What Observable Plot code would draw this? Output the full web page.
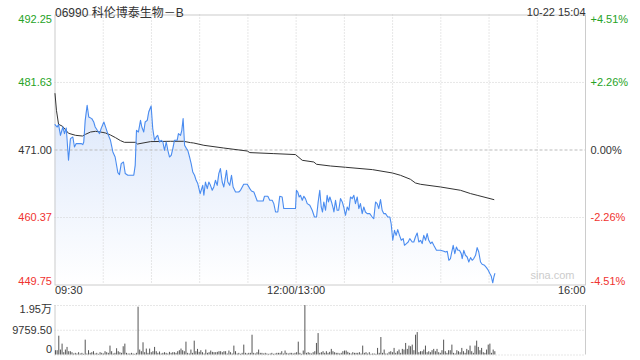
<!DOCTYPE html>
<html><head><meta charset="utf-8">
<script src="https://cdn.jsdelivr.net/npm/d3@7"></script>
<script src="https://cdn.jsdelivr.net/npm/@observablehq/plot@0.6"></script>
<style>
html,body{margin:0;padding:0;background:#fff;}
#wrap{position:relative;width:640px;height:360px;overflow:hidden;font-family:"Liberation Sans",Arial,"Noto Sans CJK SC",sans-serif;}
#main{position:absolute;left:0;top:0;}
#vol{position:absolute;left:0;top:300px;}
</style>
</head><body>
<div id="wrap"><div id="main"></div><div id="vol"></div></div>
<script>
const titleText = "06990 科伦博泰生物－B";
const timeText = "10-22 15:04";
const prevClose = 471.00;
const yTicks = [449.75, 460.37, 471.00, 481.63, 492.25];
const xTickMin = [0, 150, 330];
const xTickLabel = ["09:30", "12:00/13:00", "16:00"];
const gridMin = [30, 60, 90, 120, 150, 180, 210, 240, 270, 300];
const volTicks = [0, 9759.50, 19519];
const volTickLabel = ["0", "9759.50", "1.95万"];

const priceMin = [0,1.4,2.2,3.4,4.9,5.9,7.0,8.4,9.6,11.1,12.1,13.2,16.3,17.3,17.9,18.8,20.0,21.0,22.9,24.1,25.0,26.3,27.7,28.7,30.4,31.8,32.8,34.5,36.0,37.4,39.1,40.1,41.2,42.6,43.7,45.3,49.0,49.9,50.7,51.9,53.2,54.0,55.2,56.1,57.4,58.3,59.8,60.8,61.9,63.0,63.9,65.0,66.1,67.1,68.1,69.2,70.2,71.2,72.3,73.3,74.3,76.0,76.8,78.1,78.9,79.7,80.6,81.8,82.6,83.7,84.7,85.7,86.8,87.8,88.8,90.3,91.9,92.6,93.6,94.7,95.7,96.7,97.8,98.8,99.8,100.9,101.9,102.9,104.0,105.0,106.7,107.5,108.7,109.8,110.8,112.3,114.3,115.4,117.4,119.6,121.2,122.2,123.7,125.8,129.5,130.3,132.4,133.6,135.1,136.1,137.2,138.6,139.8,141.3,142.3,149.6,150.2,151.0,151.9,152.7,153.8,154.8,155.8,156.9,158.5,160.0,161.4,162.7,163.7,164.7,165.6,166.4,167.2,168.3,169.3,170.1,171.0,172.0,173.1,173.5,174.5,175.5,176.5,177.6,178.7,179.6,180.7,181.8,182.8,183.8,184.9,185.9,186.9,188.0,189.0,190.0,191.1,192.1,193.1,194.2,195.8,197.3,198.3,199.4,200.4,201.4,202.5,203.5,204.5,205.6,207.0,208.3,209.1,210.1,211.2,212.2,213.2,214.3,215.4,216.6,217.4,218.6,219.7,220.7,222.2,223.2,224.2,225.3,226.3,227.4,228.4,229.4,230.5,231.5,232.5,233.6,234.6,235.6,237.3,239.8,241.9,242.9,244.0,245.0,246.0,246.6,247.7,248.7,249.7,250.6,251.6,252.7,253.3,254.3,255.3,256.4,257.4,258.5,259.5,260.5,261.6,262.6,263.6,264.7,265.7,267.2,268.4,269.5,270.5,271.4,272.3,273.0,273.6];
const priceVal = [475.00,474.62,475.00,473.31,474.62,473.58,474.46,469.38,472.79,473.05,471.47,472.01,472.01,471.85,472.26,475.67,478.04,476.19,475.94,475.41,474.62,474.10,473.58,474.37,475.41,474.37,473.58,472.53,470.69,469.90,467.44,467.13,468.86,469.11,467.29,467.02,467.02,468.59,474.10,473.83,475.67,474.62,473.83,475.41,475.67,476.98,477.93,474.37,472.53,473.05,473.31,472.26,472.53,472.26,470.95,472.26,470.95,469.90,470.17,471.22,472.53,472.53,473.58,473.31,474.10,475.94,471.74,471.22,470.95,469.90,468.86,467.54,467.02,466.23,465.71,464.14,465.44,463.87,465.96,464.92,465.96,465.44,464.66,465.18,466.23,465.44,467.29,468.07,465.96,465.18,467.80,465.96,465.44,467.02,465.18,464.39,464.39,464.66,465.60,465.60,464.92,464.55,464.39,462.97,462.97,463.71,463.71,463.08,463.08,462.56,461.24,461.24,463.71,463.60,461.78,461.78,464.66,464.39,463.60,463.87,463.08,463.71,463.35,462.56,462.30,461.51,460.45,460.45,462.82,464.66,462.03,461.24,462.82,461.51,463.87,462.82,463.60,462.82,461.78,461.24,463.08,461.51,461.51,463.35,462.82,462.03,460.72,462.03,461.51,463.60,463.35,463.87,462.56,463.60,461.78,462.56,460.99,462.03,461.24,460.99,460.99,460.45,460.20,462.82,462.56,461.78,463.19,461.51,460.99,460.99,460.45,460.45,459.42,456.79,458.36,457.57,458.47,457.57,456.79,457.05,456.00,456.27,456.52,457.05,456.52,456.52,457.31,457.94,456.52,456.79,456.27,457.57,456.79,457.84,456.79,456.27,456.52,456.00,455.21,455.21,455.05,454.94,455.05,453.64,453.91,454.69,456.00,454.69,455.73,455.21,455.21,454.69,453.91,455.21,454.43,454.16,453.37,454.06,453.64,453.91,454.43,455.64,454.94,453.37,453.01,452.85,452.49,452.06,451.55,451.12,450.10,451.01,451.55];

const avgMin = [0,0.9,2.2,4.7,8.4,12.8,17.1,19.0,22.1,25.2,28.3,31.4,34.5,37.6,40.7,43.2,50.1,51.3,59.4,71.8,79.9,84.3,86.3,92.6,105.0,119.6,121.2,136.1,149.6,153.8,161.0,162.7,171.4,180.7,197.5,209.9,214.9,221.1,224.2,227.4,239.8,252.2,258.5,262.6,273.0];
const avgVal = [479.88,477.25,475.05,474.73,473.63,473.31,473.20,473.47,473.83,473.94,473.83,473.68,473.36,472.95,472.48,472.21,472.21,471.94,472.32,472.37,472.37,472.16,472.10,471.74,471.31,470.84,470.59,470.43,470.28,469.38,469.11,468.75,468.48,468.28,467.91,467.38,467.02,466.39,465.81,465.60,465.18,464.66,464.14,463.87,463.19];

const volumes = [1690,1690,7410,1950,4290,910,1950,2990,1300,1300,
910,390,650,390,910,390,650,260,5850,390,
1690,650,910,1300,390,650,260,910,650,390,
1300,910,650,3510,1300,390,650,2470,1300,910,
650,3250,4290,650,390,390,650,390,260,650,
18850,1950,1300,4810,910,2340,650,2340,910,1300,
2990,1300,650,1170,390,650,910,650,390,1040,
650,910,910,650,1300,1690,2340,1690,1300,5070,
650,390,1950,650,5460,1300,2210,1040,1690,910,
390,
1950,650,910,1560,1040,910,910,1040,1300,1300,
910,1300,1300,390,1560,910,390,3510,1300,390,
650,260,650,3900,650,390,650,650,7800,650,
390,910,1950,650,650,390,650,390,260,390,
650,260,390,650,650,650,1300,390,1560,650,
390,650,650,390,650,910,5070,650,260,1560,
19500,650,910,650,390,910,1300,4550,8450,650,
910,1300,650,1300,650,1040,2210,1300,910,650,
650,390,650,1300,1560,1560,1040,650,390,
910,650,650,650,910,390,3510,650,910,390,
910,260,390,390,260,2600,650,6890,650,1950,
390,390,1040,1300,910,2600,650,1300,1950,650,
2210,1950,4550,2210,3510,3250,3900,1690,7800,8840,
910,1300,1300,1950,3510,910,1300,910,1690,2210,
1300,2210,910,650,1690,5850,1300,650,1690,1690,
3900,650,390,1690,1300,910,2600,1300,650,2210,
1690,3510,1300,650,3510,5460,2990,1690,2600,910,
650,1950,3900,4290,650,1950,1300];

const GREEN = "#26a326", RED = "#f0332f", DARK = "#333333", GRID = "#cfcfcf", BORDER = "#cccccc";
const FONT = `"Liberation Sans", Arial, "Noto Sans CJK SC", sans-serif`;

const price = priceMin.map((m, i) => ({m, p: priceVal[i]}));
const avg = avgMin.map((m, i) => ({m, p: avgVal[i]}));
const lastVolMin = priceMin[priceMin.length - 1];
const vol = volumes.map((v, i) => ({m: 0.3 + i * (lastVolMin - 0.3) / (volumes.length - 1), v}));

const yDom = [yTicks[0], yTicks[yTicks.length - 1]];
const tickColor = v => v > prevClose ? GREEN : v < prevClose ? RED : DARK;
const ticks = yTicks.map((v, i) => ({v, i, lab: v.toFixed(2),
  pct: (v > prevClose ? "+" : "") + ((v - prevClose) / prevClose * 100).toFixed(2) + "%",
  c: tickColor(v)}));
const midTicks = ticks.filter(d => d.i > 0 && d.i < ticks.length - 1);
const topTick = ticks.filter(d => d.i === ticks.length - 1);
const botTick = ticks.filter(d => d.i === 0);

function gradDefs() {
  const ns = "http://www.w3.org/2000/svg";
  const defs = document.createElementNS(ns, "defs");
  const lg = document.createElementNS(ns, "linearGradient");
  lg.setAttribute("id", "pgrad");
  lg.setAttribute("x1", "0"); lg.setAttribute("y1", "0");
  lg.setAttribute("x2", "0"); lg.setAttribute("y2", "1");
  [["0", "#dde8fb"], ["1", "#ffffff"]].forEach(([o, c]) => {
    const s = document.createElementNS(ns, "stop");
    s.setAttribute("offset", o); s.setAttribute("stop-color", c);
    lg.appendChild(s);
  });
  defs.appendChild(lg);
  return defs;
}

const labelMarks = (data, opts) => [
  Plot.text(data, {x: 0, y: "v", text: "lab", fill: "c", textAnchor: "end", dx: -3, ...opts}),
  Plot.text(data, {x: 330, y: "v", text: "pct", fill: "c", textAnchor: "start", dx: 5, ...opts})
];

const main = Plot.plot({
  width: 640, height: 300,
  marginLeft: 54.5, marginRight: 55, marginTop: 14.5, marginBottom: 15.5,
  x: {domain: [0, 330], axis: null},
  y: {domain: yDom, axis: null},
  color: {type: "identity"},
  style: {fontFamily: FONT, fontSize: "11px", background: "#fff"},
  marks: [
    gradDefs,
    Plot.areaY(price, {x: "m", y1: yDom[0], y2: "p", fill: "url(#pgrad)", curve: "linear"}),
    Plot.ruleX(gridMin, {stroke: GRID, strokeDasharray: "1,2"}),
    Plot.ruleY(yTicks.filter(v => v !== prevClose && v !== yDom[0] && v !== yDom[1]), {stroke: GRID, strokeDasharray: "1,2"}),
    Plot.ruleY([prevClose], {stroke: "#bbbbbb", strokeDasharray: "3,2"}),
    Plot.frame({stroke: BORDER}),
    Plot.line(avg, {x: "m", y: "p", stroke: "#333333", strokeWidth: 1}),
    Plot.line(price, {x: "m", y: "p", stroke: "#4a8cf0", strokeWidth: 1.1}),
    ...labelMarks(midTicks, {}),
    ...labelMarks(topTick, {lineAnchor: "top", dy: 0}),
    ...labelMarks(botTick, {lineAnchor: "bottom", dy: 0}),
    Plot.text([xTickLabel[0]], {x: xTickMin[0], frameAnchor: "bottom", text: d => d, textAnchor: "start", dy: 9, fill: DARK, fontSize: 11}),
    Plot.text([xTickLabel[1]], {x: xTickMin[1], frameAnchor: "bottom", text: d => d, textAnchor: "middle", dy: 9, fill: DARK, fontSize: 11}),
    Plot.text([xTickLabel[2]], {x: xTickMin[2], frameAnchor: "bottom", text: d => d, textAnchor: "end", dy: 9, fill: DARK, fontSize: 11}),
    Plot.text([titleText], {frameAnchor: "top-left", text: d => d, textAnchor: "start", dy: -6.5, fill: DARK, fontSize: 12}),
    Plot.text([timeText], {frameAnchor: "top-right", text: d => d, textAnchor: "end", dy: -6.5, fill: DARK, fontSize: 11}),
    Plot.text(["sina.com"], {frameAnchor: "bottom-right", text: d => d, textAnchor: "end", dx: -11, dy: -6, fill: "#cccccc", fontSize: 11})
  ]
});
document.getElementById("main").appendChild(main);

const vticks = volTicks.map((v, i) => ({v, lab: volTickLabel[i]}));
const volPlot = Plot.plot({
  width: 640, height: 60,
  marginLeft: 54.5, marginRight: 55, marginTop: 5, marginBottom: 5.5,
  x: {domain: [0, 330], axis: null},
  y: {domain: [0, volTicks[2]], axis: null},
  style: {fontFamily: FONT, fontSize: "11px", background: "#fff"},
  marks: [
    Plot.ruleY(volTicks, {stroke: GRID, strokeDasharray: "1,2"}),
    Plot.ruleX([0, 330], {stroke: BORDER}),
    Plot.ruleX(vol, {x: "m", y1: 0, y2: "v", stroke: "#555555", strokeWidth: 1}),
    Plot.text(vticks.slice(1, 2), {x: 0, y: "v", text: "lab", textAnchor: "end", dx: -3, fill: DARK}),
    Plot.text(vticks.slice(2), {x: 0, y: "v", text: "lab", textAnchor: "end", dx: -3, lineAnchor: "top", dy: 0, fill: DARK}),
    Plot.text(vticks.slice(0, 1), {x: 0, y: "v", text: "lab", textAnchor: "end", dx: -3, lineAnchor: "bottom", dy: -2, fill: DARK})
  ]
});
document.getElementById("vol").appendChild(volPlot);
</script>
</body></html>
